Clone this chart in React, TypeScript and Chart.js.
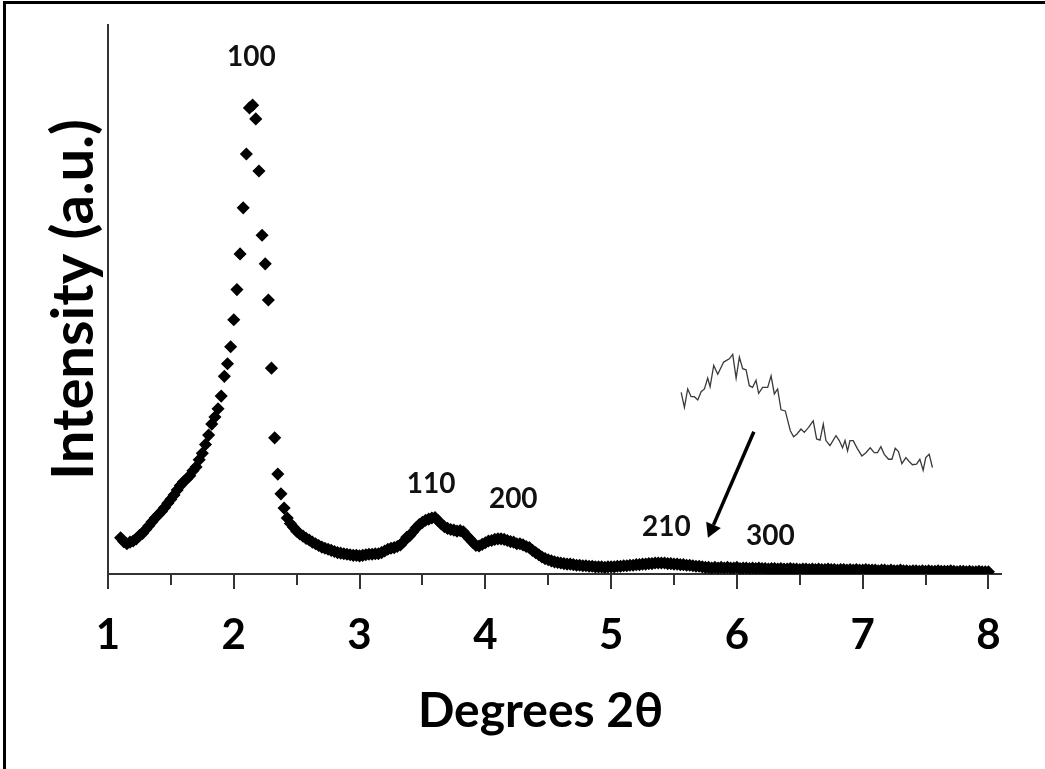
import React, { useEffect, useRef } from 'react';
import { Chart, registerables } from 'chart.js';

Chart.register(...registerables);

// ---- Data ----
const TWO_THETA_START = 1.1;
const TWO_THETA_STEP = 0.025;

// Intensity (a.u.), one value every 0.025 degrees from 1.1 to 8.0
const INTENSITY = [
  6.6, 5.9, 5.5, 5.8, 6.0, 6.4, 7.0, 7.4, 8.1, 8.8, 9.5, 10.2, 10.8, 11.4, 12.1, 12.9, 13.6, 14.4, 15.3, 16.1,
  16.8, 17.3, 17.9, 18.8, 19.5, 20.8, 22.0, 23.6, 25.3, 27.3, 28.6, 30.1, 32.4, 36.0, 38.3, 41.4, 46.3, 51.8, 58.3, 66.7,
  76.5, 84.9, 85.4, 82.9, 73.4, 61.7, 56.5, 49.9, 37.5, 24.8, 18.2, 14.6, 12.0, 10.2, 9.2, 8.5, 7.8, 7.3, 6.9, 6.5,
  6.2, 5.8, 5.5, 5.2, 4.9, 4.7, 4.5, 4.3, 4.1, 3.9, 3.8, 3.7, 3.6, 3.5, 3.4, 3.4, 3.3, 3.4, 3.5, 3.6,
  3.6, 3.7, 3.7, 3.9, 4.2, 4.5, 4.7, 4.8, 5.0, 5.3, 5.9, 6.7, 7.0, 7.7, 8.4, 9.0, 9.4, 9.8, 10.0, 10.2,
  10.3, 9.7, 9.1, 8.6, 8.3, 8.1, 8.0, 7.8, 7.9, 7.7, 7.0, 6.4, 5.8, 5.2, 5.1, 5.4, 5.7, 6.0, 6.1, 6.3,
  6.4, 6.4, 6.3, 6.1, 5.9, 5.8, 5.5, 5.5, 5.3, 5.0, 4.8, 4.3, 3.9, 3.5, 3.1, 2.8, 2.6, 2.4, 2.2, 2.1,
  2.0, 1.9, 1.8, 1.8, 1.7, 1.6, 1.6, 1.5, 1.5, 1.4, 1.4, 1.3, 1.3, 1.3, 1.2, 1.3, 1.3, 1.3, 1.4, 1.4,
  1.5, 1.5, 1.6, 1.6, 1.7, 1.7, 1.8, 1.8, 1.9, 1.9, 2.0, 2.0, 2.0, 2.0, 1.9, 1.9, 1.8, 1.8, 1.7, 1.7,
  1.6, 1.6, 1.5, 1.4, 1.4, 1.3, 1.2, 1.2, 1.1, 1.2, 1.1, 1.2, 1.1, 1.2, 1.1, 1.1, 1.2, 1.0, 1.1, 1.1,
  1.0, 1.1, 1.0, 1.1, 1.0, 1.0, 0.9, 1.0, 1.0, 0.9, 1.0, 0.9, 0.9, 1.0, 0.9, 0.9, 0.8, 0.9, 0.9, 0.8,
  0.9, 0.8, 0.9, 0.8, 0.8, 0.9, 0.8, 0.8, 0.7, 0.8, 0.8, 0.7, 0.8, 0.7, 0.8, 0.7, 0.7, 0.8, 0.7, 0.7,
  0.7, 0.6, 0.7, 0.7, 0.6, 0.7, 0.6, 0.6, 0.7, 0.6, 0.6, 0.5, 0.6, 0.6, 0.5, 0.6, 0.5, 0.6, 0.5, 0.5,
  0.6, 0.5, 0.5, 0.5, 0.6, 0.5, 0.4, 0.5, 0.5, 0.4, 0.5, 0.4, 0.4, 0.5, 0.4, 0.4, 0.4,
];

// Magnified inset trace (210 region), placed in main-axis coordinates
const INSET_X = [
  5.557, 5.583, 5.609, 5.636, 5.662, 5.689, 5.716, 5.742, 5.768, 5.787, 5.816, 5.848, 5.895, 5.94, 5.967, 5.994,
  6.02, 6.046, 6.073, 6.099, 6.125, 6.152, 6.173, 6.205, 6.245, 6.272, 6.298, 6.324, 6.351, 6.385, 6.425, 6.451,
  6.478, 6.51, 6.536, 6.57, 6.607, 6.634, 6.661, 6.687, 6.708, 6.74, 6.788, 6.814, 6.84, 6.86, 6.88, 6.899,
  6.925, 6.959, 6.994, 7.026, 7.06, 7.092, 7.118, 7.145, 7.172, 7.206, 7.233, 7.259, 7.285, 7.312, 7.344, 7.37,
  7.396, 7.428, 7.455, 7.481, 7.502, 7.529, 7.555,
];
const INSET_Y = [
  33.1, 30.35, 33.7, 32.3, 32.3, 31.7, 33.2, 33.7, 35.7, 34.1, 38.0, 36.4, 38.6, 39.2, 40.0, 35.7,
  39.5, 37.4, 37.2, 34.3, 34.0, 35.3, 32.9, 34.0, 34.0, 36.1, 32.8, 33.7, 29.9, 29.7, 26.1, 25.0,
  25.5, 26.4, 25.8, 26.7, 27.9, 24.6, 24.4, 27.3, 24.3, 23.4, 25.2, 24.3, 23.0, 24.3, 22.4, 24.3,
  24.3, 22.8, 21.5, 22.1, 23.0, 22.1, 22.1, 23.2, 21.8, 20.9, 20.9, 22.9, 22.3, 20.1, 21.2, 20.5,
  19.9, 20.0, 20.9, 18.9, 21.2, 21.8, 19.4,
];

// Peak labels (Miller indices) anchored in data coordinates
const PEAK_LABELS = ['100', '110', '200', '210', '300'];
const PEAK_LABEL_X = [2.14, 3.569, 4.222, 5.44, 6.266];
const PEAK_LABEL_Y = [94.2, 16.4, 13.7, 8.6, 6.9];

// Arrow from inset to the 210 region (data coordinates)
const ARROW_FROM = [6.135, 25.9];
const ARROW_TO = [5.77, 6.6];

const X_TICKS = [1, 1.5, 2, 2.5, 3, 3.5, 4, 4.5, 5, 5.5, 6, 6.5, 7, 7.5, 8];
const X_TITLE = 'Degrees 2θ';
const Y_TITLE = 'Intensity (a.u.)';

const FONT = 'Lato, "Open Sans", "DejaVu Sans", sans-serif';

const annotationsPlugin = {
  id: 'xrdAnnotations',
  afterDraw(chart: any) {
    const { ctx, scales, chartArea } = chart;
    const xs = scales.x;
    const ys = scales.y;
    ctx.save();
    // tick marks below the x axis
    const axisY = ys.getPixelForValue(0);
    ctx.strokeStyle = '#333';
    ctx.lineWidth = 2;
    X_TICKS.forEach((v) => {
      const px = Math.round(xs.getPixelForValue(v));
      const len = Number.isInteger(v) ? 15 : 11;
      ctx.beginPath();
      ctx.moveTo(px, axisY);
      ctx.lineTo(px, axisY + len);
      ctx.stroke();
    });
    // x axis title (slightly left of the plot centre, as in the original)
    ctx.fillStyle = '#000';
    ctx.font = `bold 48px ${FONT}`;
    ctx.textAlign = 'center';
    ctx.textBaseline = 'middle';
    ctx.fillText(X_TITLE, (chartArea.left + chartArea.right) / 2 - 14, chartArea.bottom + 138);
    // peak labels
    ctx.fillStyle = '#111';
    ctx.font = `bold 28px ${FONT}`;
    PEAK_LABELS.forEach((t, i) => {
      ctx.fillText(t, xs.getPixelForValue(PEAK_LABEL_X[i]), ys.getPixelForValue(PEAK_LABEL_Y[i]));
    });
    // arrow
    const x0 = xs.getPixelForValue(ARROW_FROM[0]);
    const y0 = ys.getPixelForValue(ARROW_FROM[1]);
    const x1 = xs.getPixelForValue(ARROW_TO[0]);
    const y1 = ys.getPixelForValue(ARROW_TO[1]);
    const ang = Math.atan2(y1 - y0, x1 - x0);
    const headLen = 14;
    const headHalf = 8;
    const bx = x1 - headLen * Math.cos(ang);
    const by = y1 - headLen * Math.sin(ang);
    ctx.strokeStyle = '#000';
    ctx.lineWidth = 3.5;
    ctx.beginPath();
    ctx.moveTo(x0, y0);
    ctx.lineTo(bx, by);
    ctx.stroke();
    ctx.fillStyle = '#000';
    ctx.beginPath();
    ctx.moveTo(x1, y1);
    ctx.lineTo(bx + headHalf * Math.sin(ang), by - headHalf * Math.cos(ang));
    ctx.lineTo(bx - headHalf * Math.sin(ang), by + headHalf * Math.cos(ang));
    ctx.closePath();
    ctx.fill();
    ctx.restore();
  },
};

export default function App() {
  const canvasRef = useRef<HTMLCanvasElement | null>(null);

  useEffect(() => {
    const canvas = canvasRef.current;
    if (!canvas) return;
    const mainPoints = INTENSITY.map((y, i) => ({ x: TWO_THETA_START + i * TWO_THETA_STEP, y }));
    const insetPoints = INSET_X.map((x, i) => ({ x, y: INSET_Y[i] }));

    const chart = new Chart(canvas, {
      type: 'scatter',
      data: {
        datasets: [
          {
            label: 'XRD',
            data: mainPoints,
            pointStyle: 'rectRot',
            pointRadius: 5.5,
            pointBorderWidth: 1.5,
            backgroundColor: '#000',
            borderColor: '#000',
            showLine: false,
          },
          {
            label: 'Inset',
            data: insetPoints,
            showLine: true,
            pointRadius: 0,
            borderColor: '#3a3a3a',
            borderWidth: 1.3,
            tension: 0,
          },
        ],
      },
      options: {
        animation: false,
        responsive: false,
        maintainAspectRatio: false,
        events: [],
        layout: { padding: { left: 0, right: 44, top: 25, bottom: 0 } },
        plugins: { legend: { display: false }, tooltip: { enabled: false } },
        scales: {
          x: {
            type: 'linear',
            min: 1,
            max: 8.1,
            afterBuildTicks: (s: any) => {
              s.ticks = X_TICKS.map((v) => ({ value: v }));
            },
            afterFit: (s: any) => {
              s.height = 195;
            },
            grid: { display: false, drawTicks: false },
            border: { display: true, color: '#333', width: 2 },
            ticks: {
              autoSkip: false,
              maxRotation: 0,
              padding: 36,
              color: '#000',
              font: { family: FONT, size: 42, weight: 'bold' },
              callback: (v: any) => (Number.isInteger(v) ? String(v) : ''),
            },
            title: { display: false },
          },
          y: {
            type: 'linear',
            min: 0,
            max: 100,
            afterFit: (s: any) => {
              s.width = 108;
            },
            grid: { display: false, drawTicks: false },
            border: { display: true, color: '#333', width: 2 },
            ticks: { display: false },
            title: {
              display: true,
              text: Y_TITLE,
              color: '#000',
              font: { family: FONT, size: 58, weight: 'bold' },
              padding: { top: 39, bottom: 0 },
            },
          },
        },
      },
      plugins: [annotationsPlugin],
    } as any);

    return () => chart.destroy();
  }, []);

  return (
    <div style={{ position: 'fixed', left: 0, top: 0, width: 1045, height: 769, background: '#fff', overflow: 'hidden' }}>
      <div
        style={{
          position: 'absolute',
          left: 3,
          top: 1,
          width: 1042,
          height: 768,
          borderLeft: '3px solid #000',
          borderTop: '3px solid #000',
          boxSizing: 'border-box',
        }}
      />
      <canvas
        ref={canvasRef}
        width={1045}
        height={769}
        style={{ position: 'absolute', left: 0, top: 0, width: 1045, height: 769 }}
      />
    </div>
  );
}
